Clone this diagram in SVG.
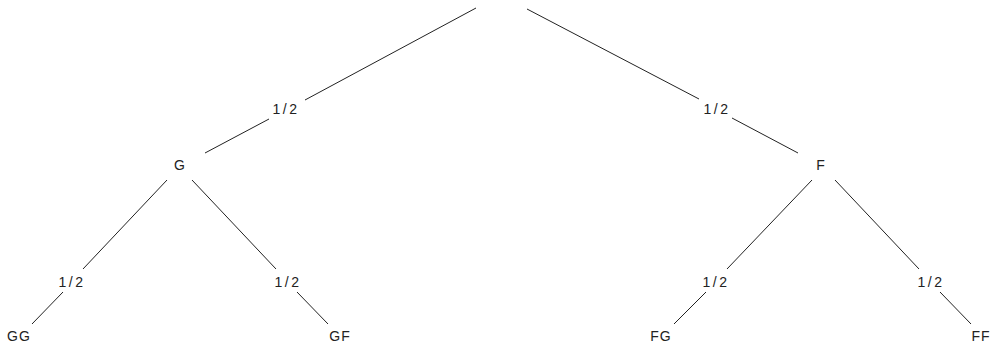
<svg xmlns="http://www.w3.org/2000/svg" width="991" height="347" viewBox="0 0 991 347">
<style>
.e{stroke:#222;stroke-width:1;fill:none}
.n{font-family:"Liberation Sans",Arial,sans-serif;font-size:14px;fill:#222;text-anchor:middle;letter-spacing:1px}
.l{font-family:"Liberation Sans",Arial,sans-serif;font-size:14px;fill:#222;text-anchor:middle;letter-spacing:2.5px}
</style>
<rect width="991" height="347" fill="#fff"/>
<g id="connectors">
<line class="e" x1="476" y1="8" x2="305" y2="100"/>
<line class="e" x1="269" y1="119" x2="205" y2="153"/>
<text class="l" x="286" y="114">1/2</text>
<line class="e" x1="527" y1="9" x2="699" y2="99"/>
<line class="e" x1="732" y1="118" x2="798" y2="153"/>
<text class="l" x="717" y="114">1/2</text>
<line class="e" x1="167" y1="180" x2="83" y2="269"/>
<line class="e" x1="63" y1="292" x2="32" y2="324"/>
<text class="l" x="72" y="287">1/2</text>
<line class="e" x1="192" y1="180" x2="276" y2="269"/>
<line class="e" x1="297" y1="292" x2="328" y2="324"/>
<text class="l" x="288" y="287">1/2</text>
<line class="e" x1="812" y1="180" x2="727" y2="269"/>
<line class="e" x1="706" y1="292" x2="674" y2="324"/>
<text class="l" x="716" y="287">1/2</text>
<line class="e" x1="835" y1="180" x2="919" y2="269"/>
<line class="e" x1="940" y1="292" x2="971" y2="324"/>
<text class="l" x="931" y="287">1/2</text>
</g>
<g id="root"><text class="n" x="501" y="13"></text></g>
<g id="G"><text class="n" x="180" y="170">G</text></g>
<g id="F"><text class="n" x="821" y="170">F</text></g>
<g id="GG"><text class="n" x="19" y="341">GG</text></g>
<g id="GF"><text class="n" x="340" y="341">GF</text></g>
<g id="FG"><text class="n" x="661" y="341">FG</text></g>
<g id="FF"><text class="n" x="981" y="341">FF</text></g>
</svg>
